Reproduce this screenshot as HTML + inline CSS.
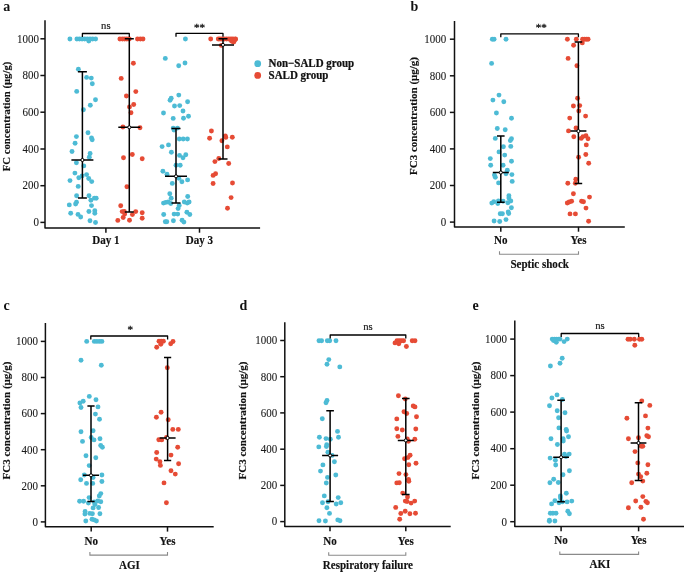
<!DOCTYPE html>
<html><head><meta charset="utf-8"><style>
html,body{margin:0;padding:0;background:#fff;overflow:hidden;}
svg{display:block;will-change:transform;}
text{font-family:"Liberation Serif", serif;}
.ax{stroke:#111;stroke-width:1.5;fill:none;stroke-linejoin:round;}
.eb{stroke:#000;stroke-width:1.5;fill:none;}
.br{stroke:#000;stroke-width:1.3;fill:none;stroke-linejoin:round;}
.gb{stroke:#8a8a8a;stroke-width:1.1;fill:none;}
.tl{font-size:12px;text-anchor:end;fill:#1a1a1a;stroke:#1a1a1a;stroke-width:0.1;}
.xl{font-size:11.5px;font-weight:bold;text-anchor:middle;fill:#111;stroke:#111;stroke-width:0.15;}
.yl{font-size:11px;font-weight:bold;text-anchor:middle;fill:#111;stroke:#111;stroke-width:0.15;}
.lt{font-size:14px;font-weight:bold;fill:#111;}
.sg{font-size:11px;text-anchor:middle;fill:#1a1a1a;stroke:#1a1a1a;stroke-width:0.2;}
.st{font-size:11px;text-anchor:middle;fill:#222;stroke:#222;stroke-width:0.35;}
.lg{font-size:11.8px;font-weight:bold;fill:#111;stroke:#111;stroke-width:0.25;}
</style></head><body>
<svg width="685" height="572" viewBox="0 0 685 572">
<circle cx="69.9" cy="39.0" r="2.45" fill="#4DBBD5"/>
<circle cx="76.9" cy="39.0" r="2.45" fill="#4DBBD5"/>
<circle cx="79.5" cy="39.0" r="2.45" fill="#4DBBD5"/>
<circle cx="82.1" cy="39.0" r="2.45" fill="#4DBBD5"/>
<circle cx="84.7" cy="39.0" r="2.45" fill="#4DBBD5"/>
<circle cx="87.3" cy="39.0" r="2.45" fill="#4DBBD5"/>
<circle cx="90.0" cy="39.0" r="2.45" fill="#4DBBD5"/>
<circle cx="92.6" cy="39.0" r="2.45" fill="#4DBBD5"/>
<circle cx="95.6" cy="39.0" r="2.45" fill="#4DBBD5"/>
<circle cx="88.8" cy="41.0" r="2.45" fill="#4DBBD5"/>
<circle cx="78.4" cy="69.3" r="2.45" fill="#4DBBD5"/>
<circle cx="86.6" cy="77.4" r="2.45" fill="#4DBBD5"/>
<circle cx="91.3" cy="78.1" r="2.45" fill="#4DBBD5"/>
<circle cx="92.3" cy="83.7" r="2.45" fill="#4DBBD5"/>
<circle cx="76.7" cy="91.4" r="2.45" fill="#4DBBD5"/>
<circle cx="95.5" cy="99.7" r="2.45" fill="#4DBBD5"/>
<circle cx="90.3" cy="105.2" r="2.45" fill="#4DBBD5"/>
<circle cx="83.4" cy="109.8" r="2.45" fill="#4DBBD5"/>
<circle cx="88.0" cy="132.7" r="2.45" fill="#4DBBD5"/>
<circle cx="76.4" cy="136.6" r="2.45" fill="#4DBBD5"/>
<circle cx="91.5" cy="137.9" r="2.45" fill="#4DBBD5"/>
<circle cx="92.2" cy="139.7" r="2.45" fill="#4DBBD5"/>
<circle cx="75.1" cy="143.2" r="2.45" fill="#4DBBD5"/>
<circle cx="72.0" cy="151.5" r="2.45" fill="#4DBBD5"/>
<circle cx="90.1" cy="153.5" r="2.45" fill="#4DBBD5"/>
<circle cx="89.3" cy="157.2" r="2.45" fill="#4DBBD5"/>
<circle cx="76.4" cy="162.8" r="2.45" fill="#4DBBD5"/>
<circle cx="83.8" cy="165.9" r="2.45" fill="#4DBBD5"/>
<circle cx="74.9" cy="173.1" r="2.45" fill="#4DBBD5"/>
<circle cx="78.8" cy="177.7" r="2.45" fill="#4DBBD5"/>
<circle cx="82.1" cy="175.9" r="2.45" fill="#4DBBD5"/>
<circle cx="86.6" cy="174.6" r="2.45" fill="#4DBBD5"/>
<circle cx="88.7" cy="178.5" r="2.45" fill="#4DBBD5"/>
<circle cx="91.7" cy="181.6" r="2.45" fill="#4DBBD5"/>
<circle cx="70.0" cy="180.6" r="2.45" fill="#4DBBD5"/>
<circle cx="78.2" cy="186.4" r="2.45" fill="#4DBBD5"/>
<circle cx="76.6" cy="195.8" r="2.45" fill="#4DBBD5"/>
<circle cx="89.0" cy="195.8" r="2.45" fill="#4DBBD5"/>
<circle cx="90.9" cy="200.3" r="2.45" fill="#4DBBD5"/>
<circle cx="94.4" cy="198.1" r="2.45" fill="#4DBBD5"/>
<circle cx="96.2" cy="198.3" r="2.45" fill="#4DBBD5"/>
<circle cx="76.5" cy="202.3" r="2.45" fill="#4DBBD5"/>
<circle cx="75.6" cy="204.0" r="2.45" fill="#4DBBD5"/>
<circle cx="69.3" cy="204.9" r="2.45" fill="#4DBBD5"/>
<circle cx="91.5" cy="205.6" r="2.45" fill="#4DBBD5"/>
<circle cx="88.9" cy="211.5" r="2.45" fill="#4DBBD5"/>
<circle cx="94.8" cy="210.8" r="2.45" fill="#4DBBD5"/>
<circle cx="94.8" cy="213.3" r="2.45" fill="#4DBBD5"/>
<circle cx="70.7" cy="213.3" r="2.45" fill="#4DBBD5"/>
<circle cx="78.0" cy="214.4" r="2.45" fill="#4DBBD5"/>
<circle cx="80.7" cy="217.0" r="2.45" fill="#4DBBD5"/>
<circle cx="90.0" cy="220.7" r="2.45" fill="#4DBBD5"/>
<circle cx="95.5" cy="222.5" r="2.45" fill="#4DBBD5"/>
<circle cx="119.9" cy="39.0" r="2.45" fill="#E64B35"/>
<circle cx="122.5" cy="39.0" r="2.45" fill="#E64B35"/>
<circle cx="124.7" cy="39.0" r="2.45" fill="#E64B35"/>
<circle cx="126.9" cy="39.0" r="2.45" fill="#E64B35"/>
<circle cx="129.3" cy="39.0" r="2.45" fill="#E64B35"/>
<circle cx="137.5" cy="39.0" r="2.45" fill="#E64B35"/>
<circle cx="140.4" cy="39.0" r="2.45" fill="#E64B35"/>
<circle cx="143.0" cy="39.0" r="2.45" fill="#E64B35"/>
<circle cx="133.4" cy="63.2" r="2.45" fill="#E64B35"/>
<circle cx="121.2" cy="78.4" r="2.45" fill="#E64B35"/>
<circle cx="135.8" cy="91.6" r="2.45" fill="#E64B35"/>
<circle cx="126.4" cy="96.0" r="2.45" fill="#E64B35"/>
<circle cx="133.7" cy="104.5" r="2.45" fill="#E64B35"/>
<circle cx="129.5" cy="106.9" r="2.45" fill="#E64B35"/>
<circle cx="131.0" cy="112.8" r="2.45" fill="#E64B35"/>
<circle cx="122.9" cy="127.0" r="2.45" fill="#E64B35"/>
<circle cx="140.0" cy="127.7" r="2.45" fill="#E64B35"/>
<circle cx="132.3" cy="154.5" r="2.45" fill="#E64B35"/>
<circle cx="123.5" cy="157.8" r="2.45" fill="#E64B35"/>
<circle cx="142.2" cy="158.7" r="2.45" fill="#E64B35"/>
<circle cx="126.9" cy="186.7" r="2.45" fill="#E64B35"/>
<circle cx="120.7" cy="205.8" r="2.45" fill="#E64B35"/>
<circle cx="122.2" cy="211.6" r="2.45" fill="#E64B35"/>
<circle cx="124.3" cy="211.4" r="2.45" fill="#E64B35"/>
<circle cx="124.7" cy="214.1" r="2.45" fill="#E64B35"/>
<circle cx="123.2" cy="217.5" r="2.45" fill="#E64B35"/>
<circle cx="117.8" cy="220.4" r="2.45" fill="#E64B35"/>
<circle cx="129.5" cy="220.2" r="2.45" fill="#E64B35"/>
<circle cx="132.4" cy="214.6" r="2.45" fill="#E64B35"/>
<circle cx="135.7" cy="211.6" r="2.45" fill="#E64B35"/>
<circle cx="142.2" cy="212.7" r="2.45" fill="#E64B35"/>
<circle cx="142.2" cy="218.2" r="2.45" fill="#E64B35"/>
<circle cx="185.4" cy="39.0" r="2.45" fill="#4DBBD5"/>
<circle cx="165.3" cy="58.4" r="2.45" fill="#4DBBD5"/>
<circle cx="185.0" cy="63.0" r="2.45" fill="#4DBBD5"/>
<circle cx="178.7" cy="65.8" r="2.45" fill="#4DBBD5"/>
<circle cx="178.8" cy="95.1" r="2.45" fill="#4DBBD5"/>
<circle cx="171.2" cy="98.2" r="2.45" fill="#4DBBD5"/>
<circle cx="170.1" cy="100.2" r="2.45" fill="#4DBBD5"/>
<circle cx="187.6" cy="101.7" r="2.45" fill="#4DBBD5"/>
<circle cx="174.5" cy="106.0" r="2.45" fill="#4DBBD5"/>
<circle cx="179.7" cy="105.6" r="2.45" fill="#4DBBD5"/>
<circle cx="183.0" cy="111.0" r="2.45" fill="#4DBBD5"/>
<circle cx="163.5" cy="113.0" r="2.45" fill="#4DBBD5"/>
<circle cx="188.5" cy="116.2" r="2.45" fill="#4DBBD5"/>
<circle cx="173.2" cy="118.4" r="2.45" fill="#4DBBD5"/>
<circle cx="183.5" cy="118.3" r="2.45" fill="#4DBBD5"/>
<circle cx="173.2" cy="128.1" r="2.45" fill="#4DBBD5"/>
<circle cx="177.5" cy="128.1" r="2.45" fill="#4DBBD5"/>
<circle cx="174.0" cy="130.0" r="2.45" fill="#4DBBD5"/>
<circle cx="179.3" cy="139.0" r="2.45" fill="#4DBBD5"/>
<circle cx="183.2" cy="139.0" r="2.45" fill="#4DBBD5"/>
<circle cx="187.4" cy="139.0" r="2.45" fill="#4DBBD5"/>
<circle cx="168.5" cy="144.9" r="2.45" fill="#4DBBD5"/>
<circle cx="162.1" cy="146.6" r="2.45" fill="#4DBBD5"/>
<circle cx="171.4" cy="152.2" r="2.45" fill="#4DBBD5"/>
<circle cx="179.5" cy="155.4" r="2.45" fill="#4DBBD5"/>
<circle cx="185.8" cy="154.8" r="2.45" fill="#4DBBD5"/>
<circle cx="183.0" cy="157.7" r="2.45" fill="#4DBBD5"/>
<circle cx="176.0" cy="165.3" r="2.45" fill="#4DBBD5"/>
<circle cx="180.2" cy="165.3" r="2.45" fill="#4DBBD5"/>
<circle cx="162.9" cy="171.2" r="2.45" fill="#4DBBD5"/>
<circle cx="167.0" cy="174.2" r="2.45" fill="#4DBBD5"/>
<circle cx="178.8" cy="178.2" r="2.45" fill="#4DBBD5"/>
<circle cx="187.6" cy="179.9" r="2.45" fill="#4DBBD5"/>
<circle cx="181.9" cy="181.7" r="2.45" fill="#4DBBD5"/>
<circle cx="172.3" cy="183.4" r="2.45" fill="#4DBBD5"/>
<circle cx="169.8" cy="193.8" r="2.45" fill="#4DBBD5"/>
<circle cx="187.7" cy="196.5" r="2.45" fill="#4DBBD5"/>
<circle cx="171.2" cy="198.3" r="2.45" fill="#4DBBD5"/>
<circle cx="163.5" cy="203.1" r="2.45" fill="#4DBBD5"/>
<circle cx="165.7" cy="202.4" r="2.45" fill="#4DBBD5"/>
<circle cx="168.2" cy="202.0" r="2.45" fill="#4DBBD5"/>
<circle cx="170.8" cy="203.5" r="2.45" fill="#4DBBD5"/>
<circle cx="184.3" cy="202.0" r="2.45" fill="#4DBBD5"/>
<circle cx="187.2" cy="203.1" r="2.45" fill="#4DBBD5"/>
<circle cx="189.1" cy="202.0" r="2.45" fill="#4DBBD5"/>
<circle cx="179.2" cy="205.5" r="2.45" fill="#4DBBD5"/>
<circle cx="178.1" cy="208.6" r="2.45" fill="#4DBBD5"/>
<circle cx="163.7" cy="214.5" r="2.45" fill="#4DBBD5"/>
<circle cx="174.1" cy="214.1" r="2.45" fill="#4DBBD5"/>
<circle cx="177.7" cy="214.1" r="2.45" fill="#4DBBD5"/>
<circle cx="186.9" cy="212.3" r="2.45" fill="#4DBBD5"/>
<circle cx="189.8" cy="214.5" r="2.45" fill="#4DBBD5"/>
<circle cx="165.3" cy="221.8" r="2.45" fill="#4DBBD5"/>
<circle cx="166.8" cy="221.8" r="2.45" fill="#4DBBD5"/>
<circle cx="173.4" cy="220.7" r="2.45" fill="#4DBBD5"/>
<circle cx="182.1" cy="220.3" r="2.45" fill="#4DBBD5"/>
<circle cx="183.9" cy="222.1" r="2.45" fill="#4DBBD5"/>
<circle cx="210.7" cy="39.0" r="2.45" fill="#E64B35"/>
<circle cx="218.3" cy="39.0" r="2.45" fill="#E64B35"/>
<circle cx="220.0" cy="39.0" r="2.45" fill="#E64B35"/>
<circle cx="221.9" cy="39.0" r="2.45" fill="#E64B35"/>
<circle cx="224.3" cy="39.0" r="2.45" fill="#E64B35"/>
<circle cx="226.6" cy="39.0" r="2.45" fill="#E64B35"/>
<circle cx="228.9" cy="39.0" r="2.45" fill="#E64B35"/>
<circle cx="231.0" cy="39.0" r="2.45" fill="#E64B35"/>
<circle cx="233.0" cy="39.0" r="2.45" fill="#E64B35"/>
<circle cx="235.4" cy="39.0" r="2.45" fill="#E64B35"/>
<circle cx="235.5" cy="39.3" r="2.45" fill="#E64B35"/>
<circle cx="231.3" cy="40.8" r="2.45" fill="#E64B35"/>
<circle cx="232.4" cy="41.6" r="2.45" fill="#E64B35"/>
<circle cx="233.8" cy="42.0" r="2.45" fill="#E64B35"/>
<circle cx="234.6" cy="40.2" r="2.45" fill="#E64B35"/>
<circle cx="221.4" cy="45.4" r="2.45" fill="#E64B35"/>
<circle cx="211.4" cy="131.0" r="2.45" fill="#E64B35"/>
<circle cx="209.6" cy="138.3" r="2.45" fill="#E64B35"/>
<circle cx="225.3" cy="136.0" r="2.45" fill="#E64B35"/>
<circle cx="225.8" cy="137.4" r="2.45" fill="#E64B35"/>
<circle cx="232.3" cy="137.2" r="2.45" fill="#E64B35"/>
<circle cx="221.9" cy="140.8" r="2.45" fill="#E64B35"/>
<circle cx="227.3" cy="146.9" r="2.45" fill="#E64B35"/>
<circle cx="218.8" cy="158.5" r="2.45" fill="#E64B35"/>
<circle cx="214.9" cy="161.6" r="2.45" fill="#E64B35"/>
<circle cx="228.7" cy="163.5" r="2.45" fill="#E64B35"/>
<circle cx="215.6" cy="173.8" r="2.45" fill="#E64B35"/>
<circle cx="213.1" cy="175.4" r="2.45" fill="#E64B35"/>
<circle cx="213.1" cy="183.5" r="2.45" fill="#E64B35"/>
<circle cx="232.5" cy="183.0" r="2.45" fill="#E64B35"/>
<circle cx="231.1" cy="197.6" r="2.45" fill="#E64B35"/>
<circle cx="227.5" cy="208.2" r="2.45" fill="#E64B35"/>
<path d="M45.0 20.3V227.9H260.1" class="ax"/>
<path d="M40.4 222.4H45.0" class="ax"/>
<text transform="translate(39.00,226.20) scale(0.915,1)" class="tl">0</text>
<path d="M40.4 185.7H45.0" class="ax"/>
<text transform="translate(39.00,189.48) scale(0.915,1)" class="tl">200</text>
<path d="M40.4 149.0H45.0" class="ax"/>
<text transform="translate(39.00,152.76) scale(0.915,1)" class="tl">400</text>
<path d="M40.4 112.2H45.0" class="ax"/>
<text transform="translate(39.00,116.04) scale(0.915,1)" class="tl">600</text>
<path d="M40.4 75.5H45.0" class="ax"/>
<text transform="translate(39.00,79.32) scale(0.915,1)" class="tl">800</text>
<path d="M40.4 38.8H45.0" class="ax"/>
<text transform="translate(39.00,42.60) scale(0.915,1)" class="tl">1000</text>
<path d="M105.9 227.9V232.7" class="ax"/>
<text transform="translate(105.90,243.90) scale(0.96,1)" class="xl">Day 1</text>
<path d="M199.5 227.9V232.7" class="ax"/>
<text transform="translate(199.50,243.90) scale(0.96,1)" class="xl">Day 3</text>
<text transform="translate(9.60,116.50) rotate(-90) scale(0.975,1)" class="yl">FC concentration (μg/g)</text>
<text x="3.2" y="11" class="lt">a</text>
<path d="M82.4 71.8V198.0M77.9 71.8H86.9M77.9 198.0H86.9M71.4 160.0H93.4" class="eb"/>
<circle cx="82.4" cy="160.0" r="1.55" fill="#fff" stroke="#000" stroke-width="1.0"/>
<path d="M129.3 38.8V212.1M124.8 38.8H133.8M124.8 212.1H133.8M118.3 127.3H140.3" class="eb"/>
<circle cx="129.3" cy="127.3" r="1.55" fill="#fff" stroke="#000" stroke-width="1.0"/>
<path d="M176.0 128.6V202.9M171.5 128.6H180.5M171.5 202.9H180.5M165.0 176.3H187.0" class="eb"/>
<circle cx="176.0" cy="176.3" r="1.55" fill="#fff" stroke="#000" stroke-width="1.0"/>
<path d="M223.0 38.8V158.9M218.5 38.8H227.5M218.5 158.9H227.5M212.0 44.9H234.0" class="eb"/>
<circle cx="223.0" cy="44.9" r="1.55" fill="#fff" stroke="#000" stroke-width="1.0"/>
<path d="M82.4 36.9V33.5H129.3V36.9" class="br"/>
<text transform="translate(105.85,28.60) rotate(0.0001) scale(0.97,1)" class="sg">ns</text>
<path d="M176.0 36.8V33.4H223.0V36.8" class="br"/>
<text transform="translate(199.60,30.90)" class="st">**</text>
<circle cx="492.3" cy="39.2" r="2.45" fill="#4DBBD5"/>
<circle cx="494.1" cy="39.2" r="2.45" fill="#4DBBD5"/>
<circle cx="506.0" cy="39.2" r="2.45" fill="#4DBBD5"/>
<circle cx="491.6" cy="63.4" r="2.45" fill="#4DBBD5"/>
<circle cx="499.0" cy="95.1" r="2.45" fill="#4DBBD5"/>
<circle cx="492.9" cy="100.1" r="2.45" fill="#4DBBD5"/>
<circle cx="503.8" cy="101.7" r="2.45" fill="#4DBBD5"/>
<circle cx="496.4" cy="113.0" r="2.45" fill="#4DBBD5"/>
<circle cx="511.5" cy="118.3" r="2.45" fill="#4DBBD5"/>
<circle cx="497.3" cy="128.5" r="2.45" fill="#4DBBD5"/>
<circle cx="505.2" cy="129.8" r="2.45" fill="#4DBBD5"/>
<circle cx="495.3" cy="138.4" r="2.45" fill="#4DBBD5"/>
<circle cx="511.5" cy="138.8" r="2.45" fill="#4DBBD5"/>
<circle cx="510.4" cy="140.5" r="2.45" fill="#4DBBD5"/>
<circle cx="503.4" cy="146.7" r="2.45" fill="#4DBBD5"/>
<circle cx="510.8" cy="146.4" r="2.45" fill="#4DBBD5"/>
<circle cx="499.0" cy="151.9" r="2.45" fill="#4DBBD5"/>
<circle cx="504.7" cy="155.1" r="2.45" fill="#4DBBD5"/>
<circle cx="490.3" cy="158.6" r="2.45" fill="#4DBBD5"/>
<circle cx="511.5" cy="161.3" r="2.45" fill="#4DBBD5"/>
<circle cx="490.7" cy="165.3" r="2.45" fill="#4DBBD5"/>
<circle cx="503.1" cy="165.3" r="2.45" fill="#4DBBD5"/>
<circle cx="507.3" cy="170.2" r="2.45" fill="#4DBBD5"/>
<circle cx="506.0" cy="173.7" r="2.45" fill="#4DBBD5"/>
<circle cx="494.4" cy="175.1" r="2.45" fill="#4DBBD5"/>
<circle cx="495.3" cy="177.2" r="2.45" fill="#4DBBD5"/>
<circle cx="511.9" cy="174.6" r="2.45" fill="#4DBBD5"/>
<circle cx="512.2" cy="181.4" r="2.45" fill="#4DBBD5"/>
<circle cx="498.6" cy="182.9" r="2.45" fill="#4DBBD5"/>
<circle cx="508.9" cy="195.8" r="2.45" fill="#4DBBD5"/>
<circle cx="508.9" cy="198.0" r="2.45" fill="#4DBBD5"/>
<circle cx="510.8" cy="201.0" r="2.45" fill="#4DBBD5"/>
<circle cx="507.8" cy="202.8" r="2.45" fill="#4DBBD5"/>
<circle cx="491.8" cy="203.1" r="2.45" fill="#4DBBD5"/>
<circle cx="493.8" cy="201.7" r="2.45" fill="#4DBBD5"/>
<circle cx="497.8" cy="203.5" r="2.45" fill="#4DBBD5"/>
<circle cx="498.4" cy="201.0" r="2.45" fill="#4DBBD5"/>
<circle cx="503.1" cy="201.3" r="2.45" fill="#4DBBD5"/>
<circle cx="511.4" cy="207.7" r="2.45" fill="#4DBBD5"/>
<circle cx="500.2" cy="213.7" r="2.45" fill="#4DBBD5"/>
<circle cx="502.4" cy="213.7" r="2.45" fill="#4DBBD5"/>
<circle cx="508.2" cy="211.9" r="2.45" fill="#4DBBD5"/>
<circle cx="508.7" cy="213.5" r="2.45" fill="#4DBBD5"/>
<circle cx="494.1" cy="221.0" r="2.45" fill="#4DBBD5"/>
<circle cx="499.7" cy="221.5" r="2.45" fill="#4DBBD5"/>
<circle cx="506.0" cy="219.6" r="2.45" fill="#4DBBD5"/>
<circle cx="567.4" cy="39.2" r="2.45" fill="#E64B35"/>
<circle cx="576.3" cy="39.2" r="2.45" fill="#E64B35"/>
<circle cx="582.6" cy="39.2" r="2.45" fill="#E64B35"/>
<circle cx="584.5" cy="39.2" r="2.45" fill="#E64B35"/>
<circle cx="586.4" cy="39.2" r="2.45" fill="#E64B35"/>
<circle cx="588.1" cy="39.2" r="2.45" fill="#E64B35"/>
<circle cx="582.3" cy="42.9" r="2.45" fill="#E64B35"/>
<circle cx="573.6" cy="45.2" r="2.45" fill="#E64B35"/>
<circle cx="568.1" cy="58.4" r="2.45" fill="#E64B35"/>
<circle cx="576.9" cy="65.8" r="2.45" fill="#E64B35"/>
<circle cx="577.6" cy="98.3" r="2.45" fill="#E64B35"/>
<circle cx="573.4" cy="106.0" r="2.45" fill="#E64B35"/>
<circle cx="579.7" cy="105.6" r="2.45" fill="#E64B35"/>
<circle cx="578.8" cy="111.0" r="2.45" fill="#E64B35"/>
<circle cx="585.6" cy="116.1" r="2.45" fill="#E64B35"/>
<circle cx="569.7" cy="118.1" r="2.45" fill="#E64B35"/>
<circle cx="576.0" cy="127.9" r="2.45" fill="#E64B35"/>
<circle cx="568.5" cy="130.9" r="2.45" fill="#E64B35"/>
<circle cx="573.8" cy="136.8" r="2.45" fill="#E64B35"/>
<circle cx="581.2" cy="138.4" r="2.45" fill="#E64B35"/>
<circle cx="583.0" cy="136.6" r="2.45" fill="#E64B35"/>
<circle cx="586.0" cy="135.7" r="2.45" fill="#E64B35"/>
<circle cx="588.0" cy="138.8" r="2.45" fill="#E64B35"/>
<circle cx="586.3" cy="144.9" r="2.45" fill="#E64B35"/>
<circle cx="585.8" cy="154.5" r="2.45" fill="#E64B35"/>
<circle cx="578.6" cy="157.2" r="2.45" fill="#E64B35"/>
<circle cx="588.7" cy="163.3" r="2.45" fill="#E64B35"/>
<circle cx="575.8" cy="179.3" r="2.45" fill="#E64B35"/>
<circle cx="575.3" cy="183.2" r="2.45" fill="#E64B35"/>
<circle cx="567.8" cy="183.2" r="2.45" fill="#E64B35"/>
<circle cx="573.4" cy="193.7" r="2.45" fill="#E64B35"/>
<circle cx="589.5" cy="197.1" r="2.45" fill="#E64B35"/>
<circle cx="567.3" cy="203.0" r="2.45" fill="#E64B35"/>
<circle cx="569.2" cy="202.0" r="2.45" fill="#E64B35"/>
<circle cx="571.6" cy="201.3" r="2.45" fill="#E64B35"/>
<circle cx="581.6" cy="201.3" r="2.45" fill="#E64B35"/>
<circle cx="583.5" cy="201.7" r="2.45" fill="#E64B35"/>
<circle cx="586.0" cy="208.1" r="2.45" fill="#E64B35"/>
<circle cx="570.0" cy="213.9" r="2.45" fill="#E64B35"/>
<circle cx="575.4" cy="213.9" r="2.45" fill="#E64B35"/>
<circle cx="588.6" cy="221.2" r="2.45" fill="#E64B35"/>
<path d="M454.5 21.0V226.9H624.8" class="ax"/>
<path d="M449.9 222.1H454.5" class="ax"/>
<text transform="translate(446.20,225.90) scale(0.915,1)" class="tl">0</text>
<path d="M449.9 185.5H454.5" class="ax"/>
<text transform="translate(446.20,189.32) scale(0.915,1)" class="tl">200</text>
<path d="M449.9 148.9H454.5" class="ax"/>
<text transform="translate(446.20,152.74) scale(0.915,1)" class="tl">400</text>
<path d="M449.9 112.4H454.5" class="ax"/>
<text transform="translate(446.20,116.16) scale(0.915,1)" class="tl">600</text>
<path d="M449.9 75.8H454.5" class="ax"/>
<text transform="translate(446.20,79.58) scale(0.915,1)" class="tl">800</text>
<path d="M449.9 39.2H454.5" class="ax"/>
<text transform="translate(446.20,43.00) scale(0.915,1)" class="tl">1000</text>
<path d="M500.8 226.9V231.7" class="ax"/>
<text transform="translate(500.80,244.00) scale(0.96,1)" class="xl">No</text>
<path d="M578.5 226.9V231.7" class="ax"/>
<text transform="translate(578.50,244.00) scale(0.96,1)" class="xl">Yes</text>
<text transform="translate(416.50,116.00) rotate(-90)" class="yl">FC3 concentration (μg/g)</text>
<text x="410.5" y="10.9" class="lt">b</text>
<path d="M500.8 136.1V202.3M497.0 136.1H504.6M497.0 202.3H504.6M492.8 172.5H508.8" class="eb"/>
<circle cx="500.8" cy="172.5" r="1.55" fill="#fff" stroke="#000" stroke-width="1.0"/>
<path d="M578.4 41.9V183.4M574.6 41.9H582.2M574.6 183.4H582.2M570.4 131.1H586.4" class="eb"/>
<circle cx="578.4" cy="131.1" r="1.55" fill="#fff" stroke="#000" stroke-width="1.0"/>
<path d="M500.8 37.3V33.9H578.4V37.3" class="br"/>
<text transform="translate(541.20,31.10)" class="st">**</text>
<path d="M499.5 251.2V254.2H578.5V251.2" class="gb"/>
<text transform="translate(539.65,268.30) scale(0.96,1)" class="xl">Septic shock</text>
<circle cx="86.7" cy="341.4" r="2.45" fill="#4DBBD5"/>
<circle cx="94.3" cy="341.4" r="2.45" fill="#4DBBD5"/>
<circle cx="96.9" cy="341.4" r="2.45" fill="#4DBBD5"/>
<circle cx="99.5" cy="341.4" r="2.45" fill="#4DBBD5"/>
<circle cx="101.9" cy="341.4" r="2.45" fill="#4DBBD5"/>
<circle cx="81.0" cy="360.3" r="2.45" fill="#4DBBD5"/>
<circle cx="101.3" cy="365.2" r="2.45" fill="#4DBBD5"/>
<circle cx="89.3" cy="396.4" r="2.45" fill="#4DBBD5"/>
<circle cx="96.0" cy="399.7" r="2.45" fill="#4DBBD5"/>
<circle cx="83.2" cy="401.2" r="2.45" fill="#4DBBD5"/>
<circle cx="79.9" cy="403.0" r="2.45" fill="#4DBBD5"/>
<circle cx="81.0" cy="407.5" r="2.45" fill="#4DBBD5"/>
<circle cx="98.0" cy="406.9" r="2.45" fill="#4DBBD5"/>
<circle cx="95.4" cy="414.1" r="2.45" fill="#4DBBD5"/>
<circle cx="99.5" cy="419.3" r="2.45" fill="#4DBBD5"/>
<circle cx="81.0" cy="431.8" r="2.45" fill="#4DBBD5"/>
<circle cx="93.1" cy="430.7" r="2.45" fill="#4DBBD5"/>
<circle cx="91.2" cy="437.5" r="2.45" fill="#4DBBD5"/>
<circle cx="94.0" cy="439.9" r="2.45" fill="#4DBBD5"/>
<circle cx="100.0" cy="438.8" r="2.45" fill="#4DBBD5"/>
<circle cx="82.5" cy="441.4" r="2.45" fill="#4DBBD5"/>
<circle cx="100.7" cy="445.5" r="2.45" fill="#4DBBD5"/>
<circle cx="102.4" cy="447.3" r="2.45" fill="#4DBBD5"/>
<circle cx="86.0" cy="455.7" r="2.45" fill="#4DBBD5"/>
<circle cx="95.8" cy="457.8" r="2.45" fill="#4DBBD5"/>
<circle cx="89.2" cy="465.6" r="2.45" fill="#4DBBD5"/>
<circle cx="84.3" cy="475.0" r="2.45" fill="#4DBBD5"/>
<circle cx="93.1" cy="477.5" r="2.45" fill="#4DBBD5"/>
<circle cx="101.9" cy="475.0" r="2.45" fill="#4DBBD5"/>
<circle cx="80.7" cy="479.7" r="2.45" fill="#4DBBD5"/>
<circle cx="86.5" cy="483.4" r="2.45" fill="#4DBBD5"/>
<circle cx="92.7" cy="483.4" r="2.45" fill="#4DBBD5"/>
<circle cx="101.9" cy="481.5" r="2.45" fill="#4DBBD5"/>
<circle cx="100.8" cy="493.6" r="2.45" fill="#4DBBD5"/>
<circle cx="99.3" cy="496.0" r="2.45" fill="#4DBBD5"/>
<circle cx="89.1" cy="497.6" r="2.45" fill="#4DBBD5"/>
<circle cx="79.6" cy="501.3" r="2.45" fill="#4DBBD5"/>
<circle cx="83.6" cy="501.3" r="2.45" fill="#4DBBD5"/>
<circle cx="88.4" cy="503.1" r="2.45" fill="#4DBBD5"/>
<circle cx="94.2" cy="502.0" r="2.45" fill="#4DBBD5"/>
<circle cx="97.8" cy="501.0" r="2.45" fill="#4DBBD5"/>
<circle cx="100.8" cy="501.7" r="2.45" fill="#4DBBD5"/>
<circle cx="94.9" cy="504.6" r="2.45" fill="#4DBBD5"/>
<circle cx="93.1" cy="507.9" r="2.45" fill="#4DBBD5"/>
<circle cx="98.6" cy="507.5" r="2.45" fill="#4DBBD5"/>
<circle cx="85.1" cy="511.5" r="2.45" fill="#4DBBD5"/>
<circle cx="84.9" cy="514.1" r="2.45" fill="#4DBBD5"/>
<circle cx="89.8" cy="513.4" r="2.45" fill="#4DBBD5"/>
<circle cx="92.4" cy="513.7" r="2.45" fill="#4DBBD5"/>
<circle cx="99.9" cy="513.7" r="2.45" fill="#4DBBD5"/>
<circle cx="85.8" cy="521.0" r="2.45" fill="#4DBBD5"/>
<circle cx="92.0" cy="519.2" r="2.45" fill="#4DBBD5"/>
<circle cx="94.2" cy="519.9" r="2.45" fill="#4DBBD5"/>
<circle cx="96.4" cy="521.0" r="2.45" fill="#4DBBD5"/>
<circle cx="159.0" cy="341.3" r="2.45" fill="#E64B35"/>
<circle cx="161.2" cy="341.1" r="2.45" fill="#E64B35"/>
<circle cx="163.4" cy="341.3" r="2.45" fill="#E64B35"/>
<circle cx="160.8" cy="344.2" r="2.45" fill="#E64B35"/>
<circle cx="156.7" cy="347.2" r="2.45" fill="#E64B35"/>
<circle cx="173.0" cy="341.5" r="2.45" fill="#E64B35"/>
<circle cx="170.7" cy="343.7" r="2.45" fill="#E64B35"/>
<circle cx="167.3" cy="367.8" r="2.45" fill="#E64B35"/>
<circle cx="161.1" cy="412.2" r="2.45" fill="#E64B35"/>
<circle cx="156.4" cy="417.2" r="2.45" fill="#E64B35"/>
<circle cx="168.2" cy="419.8" r="2.45" fill="#E64B35"/>
<circle cx="172.8" cy="429.4" r="2.45" fill="#E64B35"/>
<circle cx="178.3" cy="429.4" r="2.45" fill="#E64B35"/>
<circle cx="158.8" cy="439.7" r="2.45" fill="#E64B35"/>
<circle cx="161.7" cy="439.9" r="2.45" fill="#E64B35"/>
<circle cx="166.5" cy="437.5" r="2.45" fill="#E64B35"/>
<circle cx="177.7" cy="447.3" r="2.45" fill="#E64B35"/>
<circle cx="156.7" cy="452.5" r="2.45" fill="#E64B35"/>
<circle cx="171.0" cy="455.1" r="2.45" fill="#E64B35"/>
<circle cx="156.2" cy="459.1" r="2.45" fill="#E64B35"/>
<circle cx="159.9" cy="461.8" r="2.45" fill="#E64B35"/>
<circle cx="160.4" cy="465.4" r="2.45" fill="#E64B35"/>
<circle cx="178.6" cy="463.8" r="2.45" fill="#E64B35"/>
<circle cx="171.0" cy="470.7" r="2.45" fill="#E64B35"/>
<circle cx="175.3" cy="474.1" r="2.45" fill="#E64B35"/>
<circle cx="164.0" cy="482.9" r="2.45" fill="#E64B35"/>
<circle cx="166.4" cy="502.8" r="2.45" fill="#E64B35"/>
<path d="M45.4 322.9V526.8H213.7" class="ax"/>
<path d="M40.8 521.9H45.4" class="ax"/>
<text transform="translate(38.00,525.70) scale(0.915,1)" class="tl">0</text>
<path d="M40.8 485.8H45.4" class="ax"/>
<text transform="translate(38.00,489.60) scale(0.915,1)" class="tl">200</text>
<path d="M40.8 449.7H45.4" class="ax"/>
<text transform="translate(38.00,453.50) scale(0.915,1)" class="tl">400</text>
<path d="M40.8 413.6H45.4" class="ax"/>
<text transform="translate(38.00,417.40) scale(0.915,1)" class="tl">600</text>
<path d="M40.8 377.5H45.4" class="ax"/>
<text transform="translate(38.00,381.30) scale(0.915,1)" class="tl">800</text>
<path d="M40.8 341.4H45.4" class="ax"/>
<text transform="translate(38.00,345.20) scale(0.915,1)" class="tl">1000</text>
<path d="M91.2 526.8V531.6" class="ax"/>
<text transform="translate(91.20,544.50) scale(0.96,1)" class="xl">No</text>
<path d="M167.5 526.8V531.6" class="ax"/>
<text transform="translate(167.50,544.50) scale(0.96,1)" class="xl">Yes</text>
<text transform="translate(9.90,420.50) rotate(-90)" class="yl">FC3 concentration (μg/g)</text>
<text x="3.5" y="310" class="lt">c</text>
<path d="M91.0 406.0V501.5M87.4 406.0H94.6M87.4 501.5H94.6M83.0 475.3H99.0" class="eb"/>
<circle cx="91.0" cy="475.3" r="1.55" fill="#fff" stroke="#000" stroke-width="1.0"/>
<path d="M167.6 357.6V460.5M164.0 357.6H171.2M164.0 460.5H171.2M159.6 438.0H175.6" class="eb"/>
<circle cx="167.6" cy="438.0" r="1.55" fill="#fff" stroke="#000" stroke-width="1.0"/>
<path d="M90.8 339.4V336.0H167.6V339.4" class="br"/>
<text transform="translate(130.20,333.20)" class="st">*</text>
<path d="M89.9 552.1V555.1H167.5V552.1" class="gb"/>
<text transform="translate(129.35,569.00) scale(0.96,1)" class="xl">AGI</text>
<circle cx="319.0" cy="340.7" r="2.45" fill="#4DBBD5"/>
<circle cx="321.6" cy="340.7" r="2.45" fill="#4DBBD5"/>
<circle cx="327.3" cy="340.7" r="2.45" fill="#4DBBD5"/>
<circle cx="329.7" cy="340.7" r="2.45" fill="#4DBBD5"/>
<circle cx="336.0" cy="340.7" r="2.45" fill="#4DBBD5"/>
<circle cx="328.8" cy="359.6" r="2.45" fill="#4DBBD5"/>
<circle cx="327.0" cy="364.3" r="2.45" fill="#4DBBD5"/>
<circle cx="339.8" cy="366.9" r="2.45" fill="#4DBBD5"/>
<circle cx="327.0" cy="400.5" r="2.45" fill="#4DBBD5"/>
<circle cx="326.0" cy="402.8" r="2.45" fill="#4DBBD5"/>
<circle cx="322.3" cy="418.7" r="2.45" fill="#4DBBD5"/>
<circle cx="337.5" cy="431.4" r="2.45" fill="#4DBBD5"/>
<circle cx="319.4" cy="437.3" r="2.45" fill="#4DBBD5"/>
<circle cx="326.0" cy="438.6" r="2.45" fill="#4DBBD5"/>
<circle cx="330.3" cy="439.3" r="2.45" fill="#4DBBD5"/>
<circle cx="338.5" cy="437.3" r="2.45" fill="#4DBBD5"/>
<circle cx="326.7" cy="444.7" r="2.45" fill="#4DBBD5"/>
<circle cx="326.4" cy="446.6" r="2.45" fill="#4DBBD5"/>
<circle cx="318.8" cy="446.9" r="2.45" fill="#4DBBD5"/>
<circle cx="327.9" cy="452.2" r="2.45" fill="#4DBBD5"/>
<circle cx="332.1" cy="455.4" r="2.45" fill="#4DBBD5"/>
<circle cx="334.4" cy="461.8" r="2.45" fill="#4DBBD5"/>
<circle cx="322.9" cy="464.9" r="2.45" fill="#4DBBD5"/>
<circle cx="320.5" cy="471.1" r="2.45" fill="#4DBBD5"/>
<circle cx="327.5" cy="477.4" r="2.45" fill="#4DBBD5"/>
<circle cx="335.8" cy="475.0" r="2.45" fill="#4DBBD5"/>
<circle cx="326.3" cy="483.0" r="2.45" fill="#4DBBD5"/>
<circle cx="324.3" cy="495.9" r="2.45" fill="#4DBBD5"/>
<circle cx="338.2" cy="497.6" r="2.45" fill="#4DBBD5"/>
<circle cx="322.5" cy="502.8" r="2.45" fill="#4DBBD5"/>
<circle cx="328.0" cy="501.7" r="2.45" fill="#4DBBD5"/>
<circle cx="336.2" cy="504.0" r="2.45" fill="#4DBBD5"/>
<circle cx="340.8" cy="502.8" r="2.45" fill="#4DBBD5"/>
<circle cx="326.9" cy="507.7" r="2.45" fill="#4DBBD5"/>
<circle cx="329.5" cy="513.4" r="2.45" fill="#4DBBD5"/>
<circle cx="319.0" cy="520.7" r="2.45" fill="#4DBBD5"/>
<circle cx="325.4" cy="521.0" r="2.45" fill="#4DBBD5"/>
<circle cx="337.8" cy="519.9" r="2.45" fill="#4DBBD5"/>
<circle cx="340.0" cy="520.7" r="2.45" fill="#4DBBD5"/>
<circle cx="395.0" cy="342.9" r="2.45" fill="#E64B35"/>
<circle cx="397.0" cy="340.7" r="2.45" fill="#E64B35"/>
<circle cx="399.2" cy="340.7" r="2.45" fill="#E64B35"/>
<circle cx="401.4" cy="340.7" r="2.45" fill="#E64B35"/>
<circle cx="403.6" cy="340.7" r="2.45" fill="#E64B35"/>
<circle cx="398.8" cy="343.7" r="2.45" fill="#E64B35"/>
<circle cx="406.4" cy="346.5" r="2.45" fill="#E64B35"/>
<circle cx="412.2" cy="340.7" r="2.45" fill="#E64B35"/>
<circle cx="415.0" cy="340.7" r="2.45" fill="#E64B35"/>
<circle cx="398.4" cy="395.8" r="2.45" fill="#E64B35"/>
<circle cx="405.3" cy="399.0" r="2.45" fill="#E64B35"/>
<circle cx="413.2" cy="406.0" r="2.45" fill="#E64B35"/>
<circle cx="415.0" cy="406.9" r="2.45" fill="#E64B35"/>
<circle cx="404.0" cy="411.7" r="2.45" fill="#E64B35"/>
<circle cx="406.7" cy="413.5" r="2.45" fill="#E64B35"/>
<circle cx="416.5" cy="416.8" r="2.45" fill="#E64B35"/>
<circle cx="396.8" cy="418.9" r="2.45" fill="#E64B35"/>
<circle cx="396.8" cy="428.8" r="2.45" fill="#E64B35"/>
<circle cx="402.3" cy="430.0" r="2.45" fill="#E64B35"/>
<circle cx="415.8" cy="429.0" r="2.45" fill="#E64B35"/>
<circle cx="397.9" cy="436.4" r="2.45" fill="#E64B35"/>
<circle cx="407.3" cy="439.0" r="2.45" fill="#E64B35"/>
<circle cx="408.4" cy="441.2" r="2.45" fill="#E64B35"/>
<circle cx="414.8" cy="439.3" r="2.45" fill="#E64B35"/>
<circle cx="410.1" cy="455.2" r="2.45" fill="#E64B35"/>
<circle cx="407.9" cy="457.6" r="2.45" fill="#E64B35"/>
<circle cx="404.6" cy="458.8" r="2.45" fill="#E64B35"/>
<circle cx="408.8" cy="464.8" r="2.45" fill="#E64B35"/>
<circle cx="416.0" cy="463.2" r="2.45" fill="#E64B35"/>
<circle cx="399.0" cy="473.6" r="2.45" fill="#E64B35"/>
<circle cx="405.9" cy="474.6" r="2.45" fill="#E64B35"/>
<circle cx="408.5" cy="479.5" r="2.45" fill="#E64B35"/>
<circle cx="408.8" cy="481.3" r="2.45" fill="#E64B35"/>
<circle cx="396.8" cy="482.9" r="2.45" fill="#E64B35"/>
<circle cx="399.3" cy="482.7" r="2.45" fill="#E64B35"/>
<circle cx="402.7" cy="493.1" r="2.45" fill="#E64B35"/>
<circle cx="407.5" cy="497.0" r="2.45" fill="#E64B35"/>
<circle cx="405.3" cy="501.1" r="2.45" fill="#E64B35"/>
<circle cx="407.1" cy="501.5" r="2.45" fill="#E64B35"/>
<circle cx="411.1" cy="503.1" r="2.45" fill="#E64B35"/>
<circle cx="414.7" cy="501.1" r="2.45" fill="#E64B35"/>
<circle cx="395.7" cy="507.4" r="2.45" fill="#E64B35"/>
<circle cx="405.2" cy="511.3" r="2.45" fill="#E64B35"/>
<circle cx="400.8" cy="513.5" r="2.45" fill="#E64B35"/>
<circle cx="409.9" cy="513.7" r="2.45" fill="#E64B35"/>
<circle cx="415.5" cy="513.3" r="2.45" fill="#E64B35"/>
<circle cx="399.7" cy="519.2" r="2.45" fill="#E64B35"/>
<path d="M284.8 322.3V526.5H450.7" class="ax"/>
<path d="M280.2 521.6H284.8" class="ax"/>
<text transform="translate(277.30,525.40) scale(0.915,1)" class="tl">0</text>
<path d="M280.2 485.4H284.8" class="ax"/>
<text transform="translate(277.30,489.18) scale(0.915,1)" class="tl">200</text>
<path d="M280.2 449.2H284.8" class="ax"/>
<text transform="translate(277.30,452.96) scale(0.915,1)" class="tl">400</text>
<path d="M280.2 412.9H284.8" class="ax"/>
<text transform="translate(277.30,416.74) scale(0.915,1)" class="tl">600</text>
<path d="M280.2 376.7H284.8" class="ax"/>
<text transform="translate(277.30,380.52) scale(0.915,1)" class="tl">800</text>
<path d="M280.2 340.5H284.8" class="ax"/>
<text transform="translate(277.30,344.30) scale(0.915,1)" class="tl">1000</text>
<path d="M330.0 526.5V531.3" class="ax"/>
<text transform="translate(330.00,544.80) scale(0.96,1)" class="xl">No</text>
<path d="M405.8 526.5V531.3" class="ax"/>
<text transform="translate(405.80,544.80) scale(0.96,1)" class="xl">Yes</text>
<text transform="translate(246.30,420.50) rotate(-90)" class="yl">FC3 concentration (μg/g)</text>
<text x="239.6" y="310" class="lt">d</text>
<path d="M330.1 410.8V501.5M326.3 410.8H333.9M326.3 501.5H333.9M322.1 455.5H338.1" class="eb"/>
<circle cx="330.1" cy="455.5" r="1.55" fill="#fff" stroke="#000" stroke-width="1.0"/>
<path d="M405.8 398.5V494.5M402.0 398.5H409.6M402.0 494.5H409.6M397.8 440.4H413.8" class="eb"/>
<circle cx="405.8" cy="440.4" r="1.55" fill="#fff" stroke="#000" stroke-width="1.0"/>
<path d="M330.2 338.4V335.0H405.8V338.4" class="br"/>
<text transform="translate(368.00,330.10) rotate(0.0001) scale(0.97,1)" class="sg">ns</text>
<path d="M328.7 552.3V555.3H405.8V552.3" class="gb"/>
<text transform="translate(367.90,569.30) scale(0.96,1)" class="xl">Respiratory failure</text>
<circle cx="552.2" cy="339.1" r="2.45" fill="#4DBBD5"/>
<circle cx="554.4" cy="339.1" r="2.45" fill="#4DBBD5"/>
<circle cx="556.5" cy="339.1" r="2.45" fill="#4DBBD5"/>
<circle cx="558.7" cy="339.1" r="2.45" fill="#4DBBD5"/>
<circle cx="560.0" cy="339.1" r="2.45" fill="#4DBBD5"/>
<circle cx="556.3" cy="342.2" r="2.45" fill="#4DBBD5"/>
<circle cx="553.5" cy="340.5" r="2.45" fill="#4DBBD5"/>
<circle cx="567.3" cy="339.1" r="2.45" fill="#4DBBD5"/>
<circle cx="564.1" cy="341.6" r="2.45" fill="#4DBBD5"/>
<circle cx="562.2" cy="358.3" r="2.45" fill="#4DBBD5"/>
<circle cx="560.0" cy="363.2" r="2.45" fill="#4DBBD5"/>
<circle cx="550.4" cy="366.0" r="2.45" fill="#4DBBD5"/>
<circle cx="557.0" cy="394.9" r="2.45" fill="#4DBBD5"/>
<circle cx="551.9" cy="398.0" r="2.45" fill="#4DBBD5"/>
<circle cx="562.4" cy="399.5" r="2.45" fill="#4DBBD5"/>
<circle cx="549.5" cy="405.8" r="2.45" fill="#4DBBD5"/>
<circle cx="557.2" cy="410.8" r="2.45" fill="#4DBBD5"/>
<circle cx="565.0" cy="412.8" r="2.45" fill="#4DBBD5"/>
<circle cx="558.6" cy="417.8" r="2.45" fill="#4DBBD5"/>
<circle cx="558.9" cy="427.9" r="2.45" fill="#4DBBD5"/>
<circle cx="566.2" cy="429.4" r="2.45" fill="#4DBBD5"/>
<circle cx="566.6" cy="431.0" r="2.45" fill="#4DBBD5"/>
<circle cx="568.5" cy="436.7" r="2.45" fill="#4DBBD5"/>
<circle cx="551.0" cy="438.7" r="2.45" fill="#4DBBD5"/>
<circle cx="563.1" cy="438.8" r="2.45" fill="#4DBBD5"/>
<circle cx="563.3" cy="441.0" r="2.45" fill="#4DBBD5"/>
<circle cx="557.4" cy="444.5" r="2.45" fill="#4DBBD5"/>
<circle cx="564.5" cy="454.2" r="2.45" fill="#4DBBD5"/>
<circle cx="569.2" cy="454.1" r="2.45" fill="#4DBBD5"/>
<circle cx="566.0" cy="456.5" r="2.45" fill="#4DBBD5"/>
<circle cx="550.1" cy="458.1" r="2.45" fill="#4DBBD5"/>
<circle cx="555.4" cy="460.3" r="2.45" fill="#4DBBD5"/>
<circle cx="555.7" cy="465.0" r="2.45" fill="#4DBBD5"/>
<circle cx="569.4" cy="470.8" r="2.45" fill="#4DBBD5"/>
<circle cx="563.0" cy="474.8" r="2.45" fill="#4DBBD5"/>
<circle cx="553.7" cy="479.2" r="2.45" fill="#4DBBD5"/>
<circle cx="549.9" cy="482.8" r="2.45" fill="#4DBBD5"/>
<circle cx="558.3" cy="482.5" r="2.45" fill="#4DBBD5"/>
<circle cx="566.3" cy="493.3" r="2.45" fill="#4DBBD5"/>
<circle cx="560.4" cy="496.0" r="2.45" fill="#4DBBD5"/>
<circle cx="560.5" cy="498.0" r="2.45" fill="#4DBBD5"/>
<circle cx="554.9" cy="500.7" r="2.45" fill="#4DBBD5"/>
<circle cx="551.6" cy="503.9" r="2.45" fill="#4DBBD5"/>
<circle cx="559.0" cy="502.7" r="2.45" fill="#4DBBD5"/>
<circle cx="562.3" cy="501.9" r="2.45" fill="#4DBBD5"/>
<circle cx="567.1" cy="501.9" r="2.45" fill="#4DBBD5"/>
<circle cx="571.8" cy="501.1" r="2.45" fill="#4DBBD5"/>
<circle cx="550.3" cy="513.3" r="2.45" fill="#4DBBD5"/>
<circle cx="552.9" cy="513.3" r="2.45" fill="#4DBBD5"/>
<circle cx="556.0" cy="513.3" r="2.45" fill="#4DBBD5"/>
<circle cx="567.8" cy="511.3" r="2.45" fill="#4DBBD5"/>
<circle cx="569.4" cy="513.7" r="2.45" fill="#4DBBD5"/>
<circle cx="549.4" cy="520.2" r="2.45" fill="#4DBBD5"/>
<circle cx="549.4" cy="521.2" r="2.45" fill="#4DBBD5"/>
<circle cx="554.9" cy="521.0" r="2.45" fill="#4DBBD5"/>
<circle cx="628.0" cy="339.3" r="2.45" fill="#E64B35"/>
<circle cx="630.2" cy="339.3" r="2.45" fill="#E64B35"/>
<circle cx="634.3" cy="339.3" r="2.45" fill="#E64B35"/>
<circle cx="639.5" cy="339.3" r="2.45" fill="#E64B35"/>
<circle cx="641.8" cy="339.3" r="2.45" fill="#E64B35"/>
<circle cx="634.8" cy="345.2" r="2.45" fill="#E64B35"/>
<circle cx="641.8" cy="401.0" r="2.45" fill="#E64B35"/>
<circle cx="649.8" cy="405.4" r="2.45" fill="#E64B35"/>
<circle cx="626.9" cy="418.2" r="2.45" fill="#E64B35"/>
<circle cx="645.5" cy="415.9" r="2.45" fill="#E64B35"/>
<circle cx="647.9" cy="428.1" r="2.45" fill="#E64B35"/>
<circle cx="646.8" cy="435.8" r="2.45" fill="#E64B35"/>
<circle cx="648.5" cy="436.7" r="2.45" fill="#E64B35"/>
<circle cx="628.4" cy="438.7" r="2.45" fill="#E64B35"/>
<circle cx="638.5" cy="437.8" r="2.45" fill="#E64B35"/>
<circle cx="641.3" cy="446.3" r="2.45" fill="#E64B35"/>
<circle cx="642.8" cy="446.3" r="2.45" fill="#E64B35"/>
<circle cx="635.0" cy="451.6" r="2.45" fill="#E64B35"/>
<circle cx="637.8" cy="462.9" r="2.45" fill="#E64B35"/>
<circle cx="647.9" cy="464.7" r="2.45" fill="#E64B35"/>
<circle cx="646.8" cy="473.2" r="2.45" fill="#E64B35"/>
<circle cx="638.5" cy="474.1" r="2.45" fill="#E64B35"/>
<circle cx="640.7" cy="476.7" r="2.45" fill="#E64B35"/>
<circle cx="642.8" cy="481.1" r="2.45" fill="#E64B35"/>
<circle cx="631.7" cy="482.7" r="2.45" fill="#E64B35"/>
<circle cx="642.8" cy="496.6" r="2.45" fill="#E64B35"/>
<circle cx="635.7" cy="501.0" r="2.45" fill="#E64B35"/>
<circle cx="645.9" cy="501.4" r="2.45" fill="#E64B35"/>
<circle cx="647.4" cy="502.7" r="2.45" fill="#E64B35"/>
<circle cx="628.4" cy="507.8" r="2.45" fill="#E64B35"/>
<circle cx="640.9" cy="507.3" r="2.45" fill="#E64B35"/>
<circle cx="643.5" cy="519.3" r="2.45" fill="#E64B35"/>
<path d="M514.8 320.4V526.5H684.0" class="ax"/>
<path d="M510.2 521.7H514.8" class="ax"/>
<text transform="translate(506.90,525.50) scale(0.915,1)" class="tl">0</text>
<path d="M510.2 485.2H514.8" class="ax"/>
<text transform="translate(506.90,488.98) scale(0.915,1)" class="tl">200</text>
<path d="M510.2 448.7H514.8" class="ax"/>
<text transform="translate(506.90,452.46) scale(0.915,1)" class="tl">400</text>
<path d="M510.2 412.1H514.8" class="ax"/>
<text transform="translate(506.90,415.94) scale(0.915,1)" class="tl">600</text>
<path d="M510.2 375.6H514.8" class="ax"/>
<text transform="translate(506.90,379.42) scale(0.915,1)" class="tl">800</text>
<path d="M510.2 339.1H514.8" class="ax"/>
<text transform="translate(506.90,342.90) scale(0.915,1)" class="tl">1000</text>
<path d="M561.1 526.5V531.3" class="ax"/>
<text transform="translate(561.10,544.10) scale(0.96,1)" class="xl">No</text>
<path d="M638.6 526.5V531.3" class="ax"/>
<text transform="translate(638.60,544.10) scale(0.96,1)" class="xl">Yes</text>
<text transform="translate(479.30,420.50) rotate(-90)" class="yl">FC3 concentration (μg/g)</text>
<text x="472.5" y="310" class="lt">e</text>
<path d="M561.1 400.3V501.7M557.3 400.3H564.9M557.3 501.7H564.9M553.2 457.2H569.0" class="eb"/>
<circle cx="561.1" cy="457.2" r="1.55" fill="#fff" stroke="#000" stroke-width="1.0"/>
<path d="M638.5 402.7V480.6M634.7 402.7H642.3M634.7 480.6H642.3M630.6 443.0H646.4" class="eb"/>
<circle cx="638.5" cy="443.0" r="1.55" fill="#fff" stroke="#000" stroke-width="1.0"/>
<path d="M561.2 336.9V333.5H638.7V336.9" class="br"/>
<text transform="translate(599.95,328.60) rotate(0.0001) scale(0.97,1)" class="sg">ns</text>
<path d="M559.8 551.4V554.4H638.6V551.4" class="gb"/>
<text transform="translate(599.85,568.30) scale(0.96,1)" class="xl">AKI</text>
<circle cx="257.7" cy="63.7" r="3.4" fill="#4DBBD5"/>
<circle cx="257.7" cy="75.4" r="3.4" fill="#E64B35"/>
<text transform="translate(268.60,67.40) scale(0.93,1)" class="lg">Non−SALD group</text>
<text transform="translate(268.60,79.30) scale(0.93,1)" class="lg">SALD group</text>
</svg>
</body></html>
